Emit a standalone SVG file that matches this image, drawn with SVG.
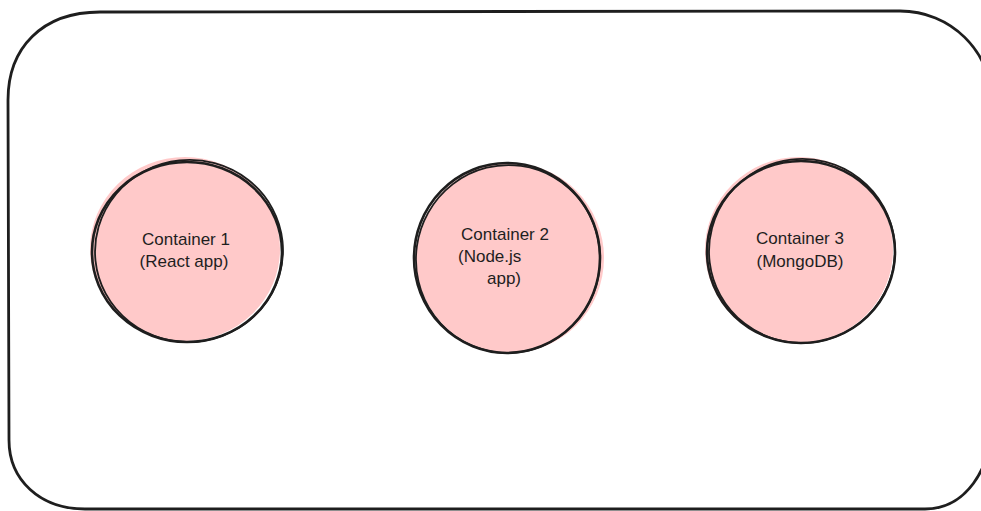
<svg xmlns="http://www.w3.org/2000/svg" width="981" height="511" viewBox="0 0 981 511">
  <style>
    .frame { fill: none; stroke: #1e1e1e; stroke-width: 2.8; stroke-linecap: round; stroke-linejoin: round; }
    .fill { fill: #ffc9c9; stroke: none; }
    .edge { fill: none; stroke: #1e1e1e; stroke-width: 2.6; stroke-linecap: round; }
    .edge2 { fill: none; stroke: #1e1e1e; stroke-width: 1.8; stroke-linecap: round; }
    .label { font-family: "Liberation Sans", Arial, sans-serif; font-size: 17px; fill: #1e1e1e; }
  </style>
  <rect x="0" y="0" width="981" height="511" fill="#ffffff"/>
  <g id="frame">
    <path class="frame" d="M 100 12 L 900 11 C 950 11 992 50 992 105 L 992 420 C 992 470 965 509 925 509 L 85 509 C 40 509 9 480 9 440 L 8 100 C 8 48 42 12 100 12 Z"/>
  </g>
  <g id="container1">
    <ellipse class="fill" cx="185" cy="249" rx="95" ry="92"/>
    <ellipse class="edge" cx="187" cy="252" rx="95" ry="90"/>
    <ellipse class="edge2" cx="189" cy="251" rx="94" ry="91" transform="rotate(-6 189 251)"/>
    <text class="label" x="186" y="245" text-anchor="middle">Container 1</text>
    <text class="label" x="184" y="267" text-anchor="middle">(React app)</text>
  </g>
  <g id="container2">
    <ellipse class="fill" cx="510" cy="258" rx="94" ry="95"/>
    <ellipse class="edge" cx="507" cy="258" rx="93" ry="95"/>
    <ellipse class="edge2" cx="508" cy="259" rx="92" ry="94" transform="rotate(8 508 259)"/>
    <text class="label" x="505" y="240" text-anchor="middle">Container 2</text>
    <text class="label" x="458" y="262">(Node.js</text>
    <text class="label" x="487" y="284">app)</text>
  </g>
  <g id="container3">
    <ellipse class="fill" cx="799" cy="250" rx="94" ry="93"/>
    <ellipse class="edge" cx="801" cy="252" rx="94" ry="91"/>
    <ellipse class="edge2" cx="802" cy="251" rx="93" ry="92" transform="rotate(-7 802 251)"/>
    <text class="label" x="800" y="244" text-anchor="middle">Container 3</text>
    <text class="label" x="800" y="267" text-anchor="middle">(MongoDB)</text>
  </g>
  <g id="connectors"/>
</svg>
